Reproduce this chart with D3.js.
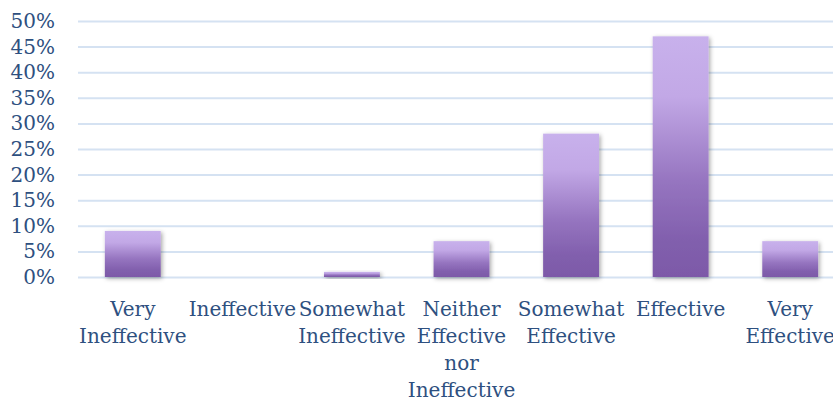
<!DOCTYPE html>
<html>
<head>
<meta charset="utf-8">
<script src="https://cdn.jsdelivr.net/npm/d3@7"></script>
<style>
  body { margin: 0; background: #fff; }
</style>
</head>
<body>
<div id="chart"></div>
<script>
// data
var categories = ["Very Ineffective", "Ineffective", "Somewhat Ineffective",
  "Neither Effective nor Ineffective", "Somewhat Effective", "Effective", "Very Effective"];
var labelLines = [["Very", "Ineffective"], ["Ineffective"], ["Somewhat", "Ineffective"],
  ["Neither", "Effective", "nor", "Ineffective"], ["Somewhat", "Effective"], ["Effective"], ["Very", "Effective"]];
var values = [0.09, 0, 0.01, 0.07, 0.28, 0.47, 0.07];
var yTicks = [0, 0.05, 0.10, 0.15, 0.20, 0.25, 0.30, 0.35, 0.40, 0.45, 0.50];

var W = 833, H = 403;
var fontFam = '"DejaVu Serif", serif';
var textCol = "#2E5080";

var svg = d3.select("#chart").append("svg")
  .attr("width", W).attr("height", H);

var defs = svg.append("defs");
var grad = defs.append("linearGradient")
  .attr("id", "barGrad").attr("x1", 0).attr("y1", 0).attr("x2", 0).attr("y2", 1);
grad.append("stop").attr("offset", "0%").attr("stop-color", "#C8B1EC");
grad.append("stop").attr("offset", "25%").attr("stop-color", "#C2A8E6");
grad.append("stop").attr("offset", "60%").attr("stop-color", "#9675C0");
grad.append("stop").attr("offset", "85%").attr("stop-color", "#815FAD");
grad.append("stop").attr("offset", "100%").attr("stop-color", "#7D59A8");

var shadow = defs.append("filter").attr("id", "shadow")
  .attr("x", "-20%").attr("y", "-20%").attr("width", "150%").attr("height", "150%");
shadow.append("feDropShadow").attr("dx", 1.5).attr("dy", 1.5)
  .attr("stdDeviation", 2).attr("flood-color", "#000").attr("flood-opacity", 0.35);

var x = d3.scaleBand()
  .domain(categories)
  .range([78, 845])
  .paddingInner(0.49).paddingOuter(0.245);

var y = d3.scaleLinear().domain([0, 0.5]).range([277, 21]);

// gridlines + y labels
var yAxis = svg.append("g")
  .attr("transform", "translate(78,0)")
  .call(d3.axisLeft(y).tickValues(yTicks).tickFormat(d3.format(".0%"))
    .tickSize(-(W - 78)).tickPadding(23));
yAxis.select(".domain").remove();
yAxis.selectAll(".tick line").attr("stroke", "#D5E2F2").attr("stroke-width", 2);
yAxis.selectAll(".tick text").attr("fill", textCol)
  .style("font-family", fontFam).style("font-size", "20px");

// bars (skip zero values)
var barData = categories.map(function (c, i) { return { cat: c, v: values[i] }; })
  .filter(function (d) { return d.v > 0; });
svg.append("g")
  .selectAll("rect")
  .data(barData)
  .enter()
  .append("rect")
  .attr("x", function (d) { return x(d.cat); })
  .attr("y", function (d) { return y(d.v); })
  .attr("width", x.bandwidth())
  .attr("height", function (d) { return y(0) - y(d.v); })
  .attr("fill", "url(#barGrad)")
  .attr("filter", "url(#shadow)");

// x labels
var lab = svg.append("g")
  .selectAll("text")
  .data(categories)
  .enter()
  .append("text")
  .attr("x", function (d) { return x(d) + x.bandwidth() / 2; })
  .attr("y", 316)
  .attr("text-anchor", "middle")
  .attr("fill", textCol)
  .style("font-family", fontFam)
  .style("font-size", "20px");
lab.each(function (d, i) {
  var t = d3.select(this);
  labelLines[i].forEach(function (ln, j) {
    t.append("tspan").attr("x", x(d) + x.bandwidth() / 2)
      .attr("dy", j === 0 ? 0 : 27).text(ln);
  });
});
</script>
</body>
</html>
